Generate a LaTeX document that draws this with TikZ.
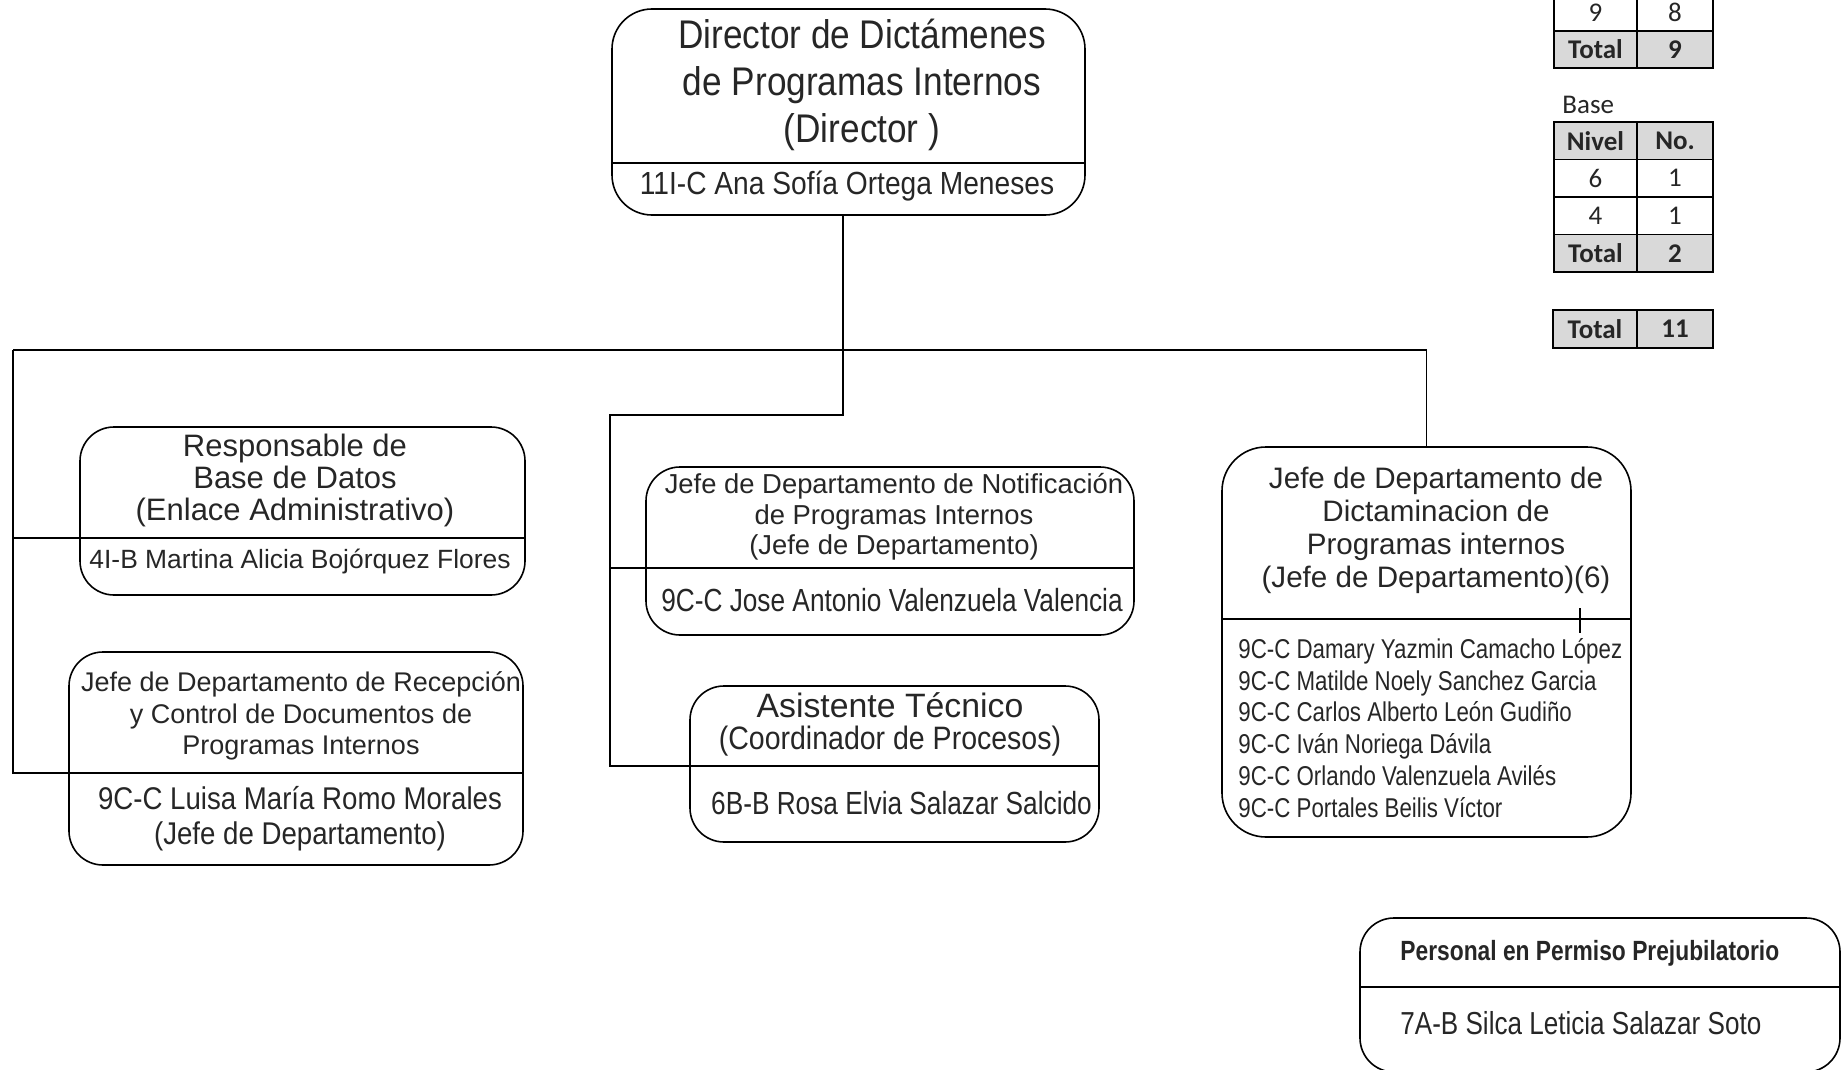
\documentclass[tikz,border=0pt]{standalone}
\usepackage{fontspec}
\setmainfont{Liberation Sans}
\newfontfamily\narrowfont{Liberation Sans}[FakeStretch=0.82]
\newfontfamily\midfont{Liberation Sans}[FakeStretch=0.88]
\newfontfamily\tablefont{Carlito}

\begin{document}
\begin{tikzpicture}[x=0.5pt,y=-0.5pt,
   box/.style={draw,rounded corners=17pt,line width=0.8pt,inner sep=0pt},
   link/.style={line width=0.55pt},
   cell/.style={draw,line width=0.8pt,inner sep=0pt,minimum height=18.75pt,
    font=\tablefont\fontsize{13.5}{15}\selectfont},
   graycell/.style={cell,fill=black!15,font=\tablefont\bfseries\fontsize{13.5}{15}\selectfont},
   every node/.append style={text=black!85}
   ]
  \useasboundingbox (0,0) rectangle (1843,1070);
  \clip (0,0) rectangle (1843,1070);

  % -- boxes
  \node[box,rounded corners=20pt,minimum width=236.5pt,minimum height=103pt] (dir) at (848.5,112) {};
  \node[box,minimum width=222.5pt,minimum height=84pt] (resp) at (302.5,511) {};
  \node[box,minimum width=227pt,minimum height=106.5pt] (recep) at (296,758.5) {};
  \node[box,minimum width=244pt,minimum height=84pt] (notif) at (890,551) {};
  \node[box,minimum width=204.5pt,minimum height=78pt] (asist) at (894.5,764) {};
  \node[box,rounded corners=22pt,minimum width=204.5pt,minimum height=195pt] (dict) at (1426.5,642) {};
  \node[box,minimum width=240pt,minimum height=77pt] (perm) at (1600,995) {};

  % -- dividers
  \draw[link] (dir.west |- 0,163) -- (dir.east |- 0,163);
  \draw[link] (dict.west |- 0,619) -- (dict.east |- 0,619);
  \draw[link] (perm.west |- 0,987) -- (perm.east |- 0,987);
  \draw[link] (1580,608) -- (1580,633);

  % -- connectors
  \coordinate (bus-l) at (13,350);
  \coordinate (bend) at (843,415);
  \coordinate (rail) at (610,415);
  \draw[link] (bend |- dir.south) -- (bend) -- (rail) |- (asist.east |- 0,766);
  \draw[link] (rail |- 0,568) -- (notif.east |- 0,568);
  \draw[link] (bus-l) -- (bus-l -| dict.north) -- (dict.north);
  \draw[link] (bus-l) |- (recep.east |- 0,773);
  \draw[link] (bus-l |- 0,538) -- (resp.east |- 0,538);

  % -- texts
  \node[font=\midfont\fontsize{20}{23.5}\selectfont,align=center] (dir-title) at (862,85)
    {Director de Dictámenes\\de Programas Internos\\(Director )};
  \node[font=\midfont\fontsize{16}{18}\selectfont] (dir-name) at (847,186) {11I-C Ana Sofía Ortega Meneses};

  \node[font=\fontsize{15.5}{16}\selectfont,align=center] (resp-title) at (295,480)
    {Responsable de\\Base de Datos\\(Enlace Administrativo)};
  \node[font=\fontsize{13.2}{15}\selectfont] (resp-name) at (300,562) {4I-B Martina Alicia Bojórquez Flores};

  \node[font=\fontsize{13.5}{15.9}\selectfont,align=center] (recep-title) at (301,716)
    {Jefe de Departamento de Recepción\\y Control de Documentos de\\Programas Internos};
  \node[font=\midfont\fontsize{15.7}{17.6}\selectfont,align=center] (recep-name) at (300,819)
    {9C-C Luisa María Romo Morales\\(Jefe de Departamento)};

  \node[font=\fontsize{13.7}{15.3}\selectfont,align=center] (notif-title) at (894,517)
    {Jefe de Departamento de Notificación\\de Programas Internos\\(Jefe de Departamento)};
  \node[font=\narrowfont\fontsize{16}{18}\selectfont] (notif-name) at (892,600) {9C-C Jose Antonio Valenzuela Valencia};

  \node[font=\fontsize{16.9}{18}\selectfont] (asist-title) at (890,705) {Asistente Técnico};
  \node[font=\midfont\fontsize{16.2}{18}\selectfont] (asist-role) at (890,741) {(Coordinador de Procesos)};
  \node[font=\narrowfont\fontsize{16}{18}\selectfont] (asist-name) at (901.5,803) {6B-B Rosa Elvia Salazar Salcido};

  \node[font=\fontsize{14.8}{16.5}\selectfont,align=center] (dict-title) at (1436,530)
    {Jefe de Departamento de\\Dictaminacion de\\Programas internos\\(Jefe de Departamento)(6)};
  \node[font=\narrowfont\fontsize{13.6}{15.9}\selectfont,align=left,anchor=west,inner sep=0pt] (dict-staff) at (1238,728)
    {9C-C Damary Yazmin Camacho López\\9C-C Matilde Noely Sanchez Garcia\\9C-C Carlos Alberto León Gudiño\\
     9C-C Iván Noriega Dávila\\9C-C Orlando Valenzuela Avilés\\9C-C Portales Beilis Víctor};

  \node[font=\narrowfont\bfseries\fontsize{13.9}{16}\selectfont,anchor=west,inner sep=0pt] (perm-title) at (1400,953)
    {Personal en Permiso Prejubilatorio};
  \node[font=\narrowfont\fontsize{15.9}{18}\selectfont,anchor=west,inner sep=0pt] (perm-name) at (1400,1023)
    {7A-B Silca Leticia Salazar Soto};

  % -- tables
  \node[cell,minimum width=41.5pt,minimum height=18.5pt] (top-n1) at (1595.5,12.5) {9};
  \node[cell,minimum width=38pt,minimum height=18.5pt] (top-c1) at (1675,12.5) {8};
  \node[graycell,minimum width=41.5pt,minimum height=18.5pt] (top-n2) at (1595.5,49.5) {Total};
  \node[graycell,minimum width=38pt,minimum height=18.5pt] (top-c2) at (1675,49.5) {9};

  \node[font=\tablefont\fontsize{13.5}{15}\selectfont,anchor=west,inner sep=0pt] (base-lbl) at (1562,105) {Base};
  \node[graycell,minimum width=41.5pt] (base-n0) at (1595.5,140.75) {Nivel};
  \node[graycell,minimum width=38pt] (base-c0) at (1675,140.75) {No.};
  \node[cell,minimum width=41.5pt] (base-n1) at (1595.5,178.25) {6};
  \node[cell,minimum width=38pt] (base-c1) at (1675,178.25) {1};
  \node[cell,minimum width=41.5pt] (base-n2) at (1595.5,215.75) {4};
  \node[cell,minimum width=38pt] (base-c2) at (1675,215.75) {1};
  \node[graycell,minimum width=41.5pt] (base-n3) at (1595.5,253.25) {Total};
  \node[graycell,minimum width=38pt] (base-c3) at (1675,253.25) {2};

  \node[graycell,minimum width=42pt] (sum-n) at (1595,329) {Total};
  \node[graycell,minimum width=38pt] (sum-c) at (1675,329) {11};

\end{tikzpicture}
\end{document}
